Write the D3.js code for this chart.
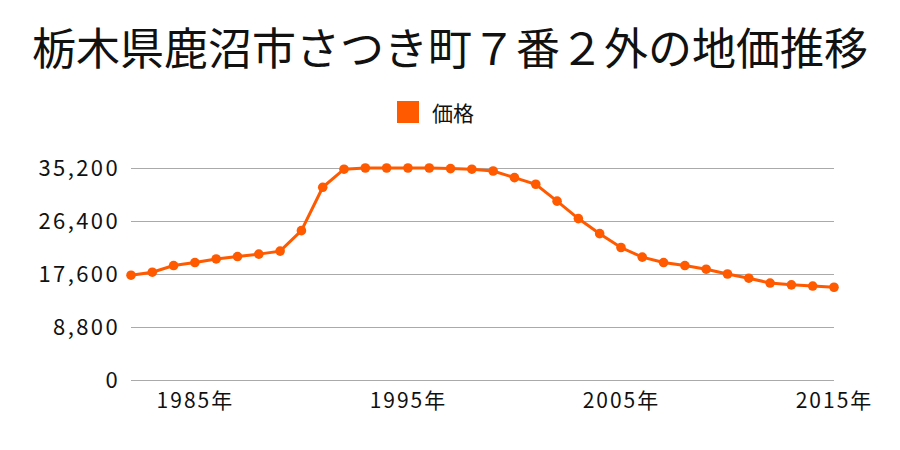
<!DOCTYPE html>
<html><head><meta charset="utf-8">
<script src="https://cdn.jsdelivr.net/npm/d3@7"></script>
<style>body{margin:0;background:#fff}text{font-family:"Noto Sans CJK JP",sans-serif;fill:#111}</style>
</head><body><svg id="c" width="900" height="450"></svg>
<script>
const title = "栃木県鹿沼市さつき町７番２外の地価推移";
const seriesName = "価格";
const years = [1982,1983,1984,1985,1986,1987,1988,1989,1990,1991,1992,1993,1994,1995,1996,1997,1998,1999,2000,2001,2002,2003,2004,2005,2006,2007,2008,2009,2010,2011,2012,2013,2014,2015];
const prices = [17400,17900,19000,19500,20100,20500,20900,21400,24800,32000,35000,35200,35200,35200,35200,35100,35000,34700,33600,32500,29700,26800,24300,22000,20400,19500,19000,18400,17600,16900,16100,15800,15600,15400];
const yTicks = [0,8800,17600,26400,35200];
const xTicks = [1985,1995,2005,2015];
const color = "#ff5a00";

const svg = d3.select("#c");
const x = d3.scaleLinear().domain([1982,2015]).range([131,834]);
const y = d3.scaleLinear().domain([0,35200]).range([380,168]);

svg.append("text").attr("x",450).attr("y",46).attr("text-anchor","middle")
  .attr("dominant-baseline","central").style("font-size","44px").text(title);

svg.append("rect").attr("x",397).attr("y",101).attr("width",22).attr("height",22).attr("fill",color);
svg.append("text").attr("x",432).attr("y",112).attr("dominant-baseline","central")
  .style("font-size","21px").text(seriesName);

const yAxis = d3.axisLeft(y).tickValues(yTicks).tickSize(-(834-131)).tickPadding(11)
  .tickFormat(d3.format(","));
const gy = svg.append("g").attr("transform","translate(131,0)").call(yAxis);
gy.select(".domain").remove();
gy.selectAll(".tick line").attr("stroke","#aaa").attr("stroke-width",1);
gy.selectAll(".tick text").style("font-size","22px").attr("fill","#111").style("letter-spacing","2.4px");

const xAxis = d3.axisBottom(x).tickValues(xTicks).tickSize(0).tickPadding(15).tickFormat(d=>d+"年");
const gx = svg.append("g").attr("transform","translate(0,389)").call(xAxis);
gx.select(".domain").remove();
gx.selectAll(".tick text").style("font-size","21px").attr("fill","#111").attr("dy","0.2em").style("letter-spacing","2px");

const data = years.map((yr,i)=>({yr, v:prices[i]}));
svg.append("path").datum(data).attr("fill","none").attr("stroke",color).attr("stroke-width",3)
  .attr("d", d3.line().x(d=>x(d.yr)).y(d=>y(d.v)));
svg.selectAll("circle.pt").data(data).enter().append("circle").attr("class","pt")
  .attr("cx",d=>x(d.yr)).attr("cy",d=>y(d.v)).attr("r",4.8).attr("fill",color);
</script></body></html>
